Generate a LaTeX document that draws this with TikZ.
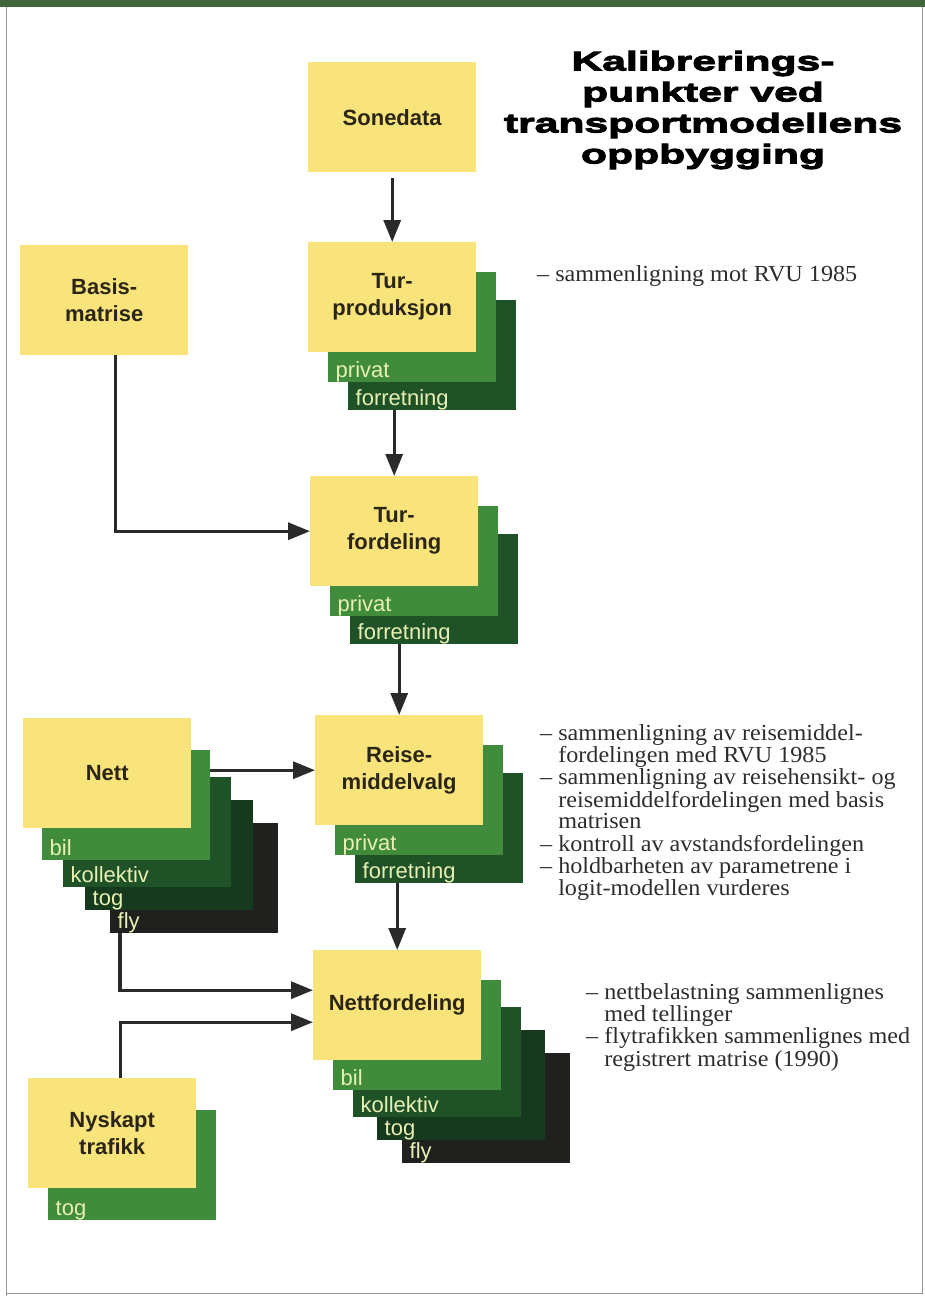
\documentclass[tikz,border=0pt]{standalone}
\usepackage{xcolor}
\usepackage{fontspec}
\setmainfont{Liberation Serif}
\setsansfont{Liberation Sans}
\newfontfamily\titlefont[FakeStretch=1.58,BoldFeatures={FakeBold=3.5}]{Liberation Sans}
\newfontfamily\notefont[FakeStretch=1.05]{Liberation Serif}
\usepackage{tikz}
\usetikzlibrary{positioning, arrows.meta}

\definecolor{boxyellow}{RGB}{248,228,122}
\definecolor{boxtext}{RGB}{43,37,24}
\definecolor{greenA}{RGB}{64,140,60}
\definecolor{greenB}{RGB}{31,82,39}
\definecolor{greenC}{RGB}{22,58,30}
\definecolor{greenD}{RGB}{32,32,30}
\definecolor{lbltext}{RGB}{232,239,180}
\definecolor{arrowgray}{RGB}{42,42,42}
\definecolor{notetext}{RGB}{45,45,45}
\definecolor{topbar}{RGB}{62,104,58}
\definecolor{framegray}{RGB}{150,150,150}

\begin{document}
\begin{tikzpicture}[x=1pt, y=-1pt,
    box/.style={anchor=north west, fill=boxyellow, minimum width=168pt, minimum height=110pt,
      inner sep=0pt, align=center, text=boxtext, font=\sffamily\bfseries\fontsize{22}{27}\selectfont},
    sheet/.style={anchor=north west, fill=#1, minimum width=168pt, minimum height=110pt, inner sep=0pt},
    lbl/.style={anchor=south west, inner sep=0.5pt, xshift=7pt, text depth=4pt, text=lbltext,
      font=\sffamily\fontsize{22}{22}\selectfont},
    arr/.style={line width=3.2pt, draw=arrowgray, -{Triangle[length=22pt,width=17pt]}},
    note/.style={anchor=north west, inner sep=0pt, align=left, text=notetext,
      font=\notefont\fontsize{23}{21}\selectfont}]
  \useasboundingbox (0,0) rectangle (925,1296);

  % page frame
  \fill[topbar] (0,0) rectangle (925,7);
  \draw[framegray, line width=1pt] (6,7) -- (6,1296);
  \draw[framegray, line width=1pt] (922,7) -- (922,1293) -- (6,1293);

  % title
  \node[align=center, text=black, font=\titlefont\bfseries\fontsize{27}{31}\selectfont] (Title) at (703,110)
    {Kalibrerings-\\punkter ved\\transportmodellens\\oppbygging};

  % boxes
  \node[box] (Sonedata) at (308,62) {Sonedata};

  \node[sheet=greenB, label={[lbl]south west:forretning}] (TurprodF) at (348,300) {};
  \node[sheet=greenA, label={[lbl]south west:privat}] (TurprodP) at (328,272) {};
  \node[box] (Turprod) at (308,242) {Tur-\\produksjon};

  \node[box] (Basis) at (20,245) {Basis-\\matrise};

  \node[sheet=greenB, label={[lbl]south west:forretning}] (TurfordF) at (350,534) {};
  \node[sheet=greenA, label={[lbl]south west:privat}] (TurfordP) at (330,506) {};
  \node[box] (Turford) at (310,476) {Tur-\\fordeling};

  \node[sheet=greenD, label={[lbl]south west:fly}] (NettFly) at (110,823) {};
  \node[sheet=greenC, label={[lbl]south west:tog}] (NettTog) at (85,800) {};
  \node[sheet=greenB, label={[lbl]south west:kollektiv}] (NettKoll) at (63,777) {};
  \node[sheet=greenA, label={[lbl]south west:bil}] (NettBil) at (42,750) {};
  \node[box] (Nett) at (23,718) {Nett};

  \node[sheet=greenB, label={[lbl]south west:forretning}] (ReiseF) at (355,773) {};
  \node[sheet=greenA, label={[lbl]south west:privat}] (ReiseP) at (335,745) {};
  \node[box] (Reise) at (315,715) {Reise-\\middelvalg};

  \node[sheet=greenD, label={[lbl]south west:fly}] (NfFly) at (402,1053) {};
  \node[sheet=greenC, label={[lbl]south west:tog}] (NfTog) at (377,1030) {};
  \node[sheet=greenB, label={[lbl]south west:kollektiv}] (NfKoll) at (353,1007) {};
  \node[sheet=greenA, label={[lbl]south west:bil}] (NfBil) at (333,980) {};
  \node[box] (Nettford) at (313,950) {Nettfordeling};

  \node[sheet=greenA, label={[lbl]south west:tog}] (NyTog) at (48,1110) {};
  \node[box] (Nyskapt) at (28,1078) {Nyskapt\\trafikk};

  % connectors
  \draw[arr, shorten <=6pt] (Sonedata.south) -- (Turprod.north);
  \draw[arr] (TurprodF.south -| Turford.north) -- (Turford.north);
  \draw[arr] ([xshift=11pt]Basis.south) |- (Turford.west);
  \draw[arr] (TurfordF.south -| Reise.north) -- (Reise.north);
  \draw[arr] (Reise.west -| NettBil.east) -- (Reise.west);
  \draw[arr] (ReiseF.south -| Nettford.north) -- (Nettford.north);
  \draw[arr] ([xshift=10pt]NettFly.south west) |- ([yshift=15pt]Nettford.west);
  \draw[arr] ([xshift=8pt]Nyskapt.north) |- ([yshift=-17pt]Nettford.west);

  % notes
  \node[note] (NoteProd) at (537,265) {%
    \begin{tabular}{@{}l@{\hspace{6pt}}l@{}}
      – & sammenligning mot RVU 1985
    \end{tabular}};
  \node[note] (NoteReise) at (540,724) {%
    \begin{tabular}{@{}l@{\hspace{6pt}}l@{}}
      – & sammenligning av reisemiddel-\\
        & fordelingen med RVU 1985\\
      – & sammenligning av reisehensikt- og\\
        & reisemiddelfordelingen med basis\\
        & matrisen\\
      – & kontroll av avstandsfordelingen\\
      – & holdbarheten av parametrene i\\
        & logit-modellen vurderes
    \end{tabular}};
  \node[note] (NoteNett) at (586,983) {%
    \begin{tabular}{@{}l@{\hspace{6pt}}l@{}}
      – & nettbelastning sammenlignes\\
        & med tellinger\\
      – & flytrafikken sammenlignes med\\
        & registrert matrise (1990)
    \end{tabular}};
\end{tikzpicture}
\end{document}
